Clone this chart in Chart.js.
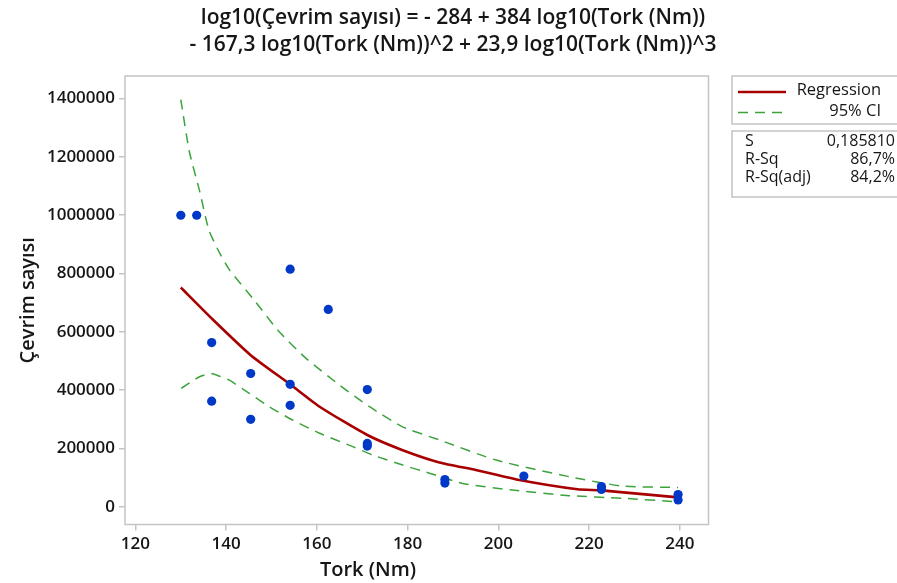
<!DOCTYPE html>
<html>
<head>
<meta charset="utf-8">
<script src="https://cdn.jsdelivr.net/npm/chart.js@4.4.1/dist/chart.umd.min.js"></script>
<style>
  html, body { margin: 0; padding: 0; background: #ffffff; }
  #wrap { width: 897px; height: 583px; position: relative; }
</style>
</head>
<body>
<div id="wrap"><canvas id="chart" width="897" height="583"></canvas></div>
<script>
// Observed fatigue data: torque (Nm) vs. cycles to failure
const torque = [130, 133.5, 136.8, 136.8, 145.4, 145.4, 154.1, 154.1, 154.1, 162.5,
                171.1, 171.1, 171.1, 188.2, 188.2, 205.6, 222.7, 222.7, 239.6, 239.6];
const cycles = [1000000, 1000000, 563000, 362000, 457000, 300000, 815000, 420000, 348000, 677000,
                402000, 217000, 208000, 93000, 81000, 105000, 69000, 59000, 42000, 23000];

// Fitted cubic regression curve (back-transformed)
const fitX = [130, 136.8, 145.4, 154.1, 160.6, 171.1, 178.9, 187, 195, 204.6, 217.4, 222.7, 239.6];
const fitY = [752000, 646000, 520000, 420000, 343000, 246000, 194000, 152000, 126000, 91500, 59700, 56000, 32000];

// 95% confidence band
const ciUpperX = [130, 131.9, 134.1, 136.2, 138.6, 140.8, 145.9, 151.7, 157.6, 165, 171.6, 178.9, 187, 199.5, 215.6, 227.3, 239.6];
const ciUpperY = [1397000, 1217000, 1086000, 949000, 869000, 811000, 714000, 600000, 509000, 417000, 343000, 274000, 229000, 160000, 103000, 71000, 66000];
const ciLowerX = [130.1, 134.1, 136.7, 138.5, 140.7, 145.1, 149.5, 154.7, 160.6, 167.9, 172.3, 178.9, 184.8, 192.1, 203.1, 215.6, 227.3, 239.6];
const ciLowerY = [406000, 446000, 457000, 448000, 434000, 389000, 343000, 297000, 252000, 206000, 177000, 143000, 115000, 80000, 57000, 38000, 29000, 17000];

// Axis ticks
const xTicks = [120, 140, 160, 180, 200, 220, 240];
const yTicks = [0, 200000, 400000, 600000, 800000, 1000000, 1200000, 1400000];

const titleLines = [
  'log10(Çevrim sayısı) = - 284 + 384 log10(Tork (Nm))',
  '- 167,3 log10(Tork (Nm))^2 + 23,9 log10(Tork (Nm))^3'
];
const statLabels = ['S', 'R-Sq', 'R-Sq(adj)'];
const statValues = ['0,185810', '86,7%', '84,2%'];

const FONT = '"Open Sans", "Noto Sans", "DejaVu Sans", sans-serif';
const TEXT = '#161616';
const FRAME = '#c4c4c4';
const RED = '#a80000';
const GREEN = '#3ca33c';
const BLUE = '#0038c8';

const toXY = (xs, ys) => xs.map((x, i) => ({ x: x, y: ys[i] }));

// Frame around the plot area, titles, legend and summary statistics
const decorations = {
  id: 'decorations',
  beforeDatasetsDraw(chart) {
    const { ctx, chartArea: a } = chart;
    ctx.save();
    ctx.strokeStyle = FRAME;
    ctx.lineWidth = 1.5;
    ctx.strokeRect(a.left, a.top, a.right - a.left, a.bottom - a.top);
    ctx.restore();
  },
  afterDraw(chart) {
    const { ctx, chartArea: a } = chart;
    ctx.save();
    ctx.fillStyle = TEXT;

    // Chart title
    ctx.font = '600 21px ' + FONT;
    ctx.textAlign = 'center';
    ctx.textBaseline = 'middle';
    ctx.fillText(titleLines[0], 453, 18);
    ctx.fillText(titleLines[1], 453, 45);

    // Axis titles
    ctx.font = '600 20px ' + FONT;
    ctx.fillText('Tork (Nm)', 368, 570);
    ctx.save();
    ctx.translate(28, (a.top + a.bottom) / 2);
    ctx.rotate(-Math.PI / 2);
    ctx.fillText('Çevrim sayısı', 0, 0);
    ctx.restore();

    // Legend box
    ctx.strokeStyle = FRAME;
    ctx.lineWidth = 1.5;
    ctx.strokeRect(732, 76, 170, 48);
    ctx.strokeRect(732, 131, 170, 66);

    ctx.lineWidth = 2.6;
    ctx.strokeStyle = RED;
    ctx.beginPath(); ctx.moveTo(738, 92); ctx.lineTo(786, 92); ctx.stroke();
    ctx.lineWidth = 1.5;
    ctx.strokeStyle = GREEN;
    ctx.setLineDash([10, 7]);
    ctx.beginPath(); ctx.moveTo(738, 112.5); ctx.lineTo(786, 112.5); ctx.stroke();
    ctx.setLineDash([]);

    ctx.font = '500 16.5px ' + FONT;
    ctx.textAlign = 'right';
    ctx.fillText('Regression', 881, 90);
    ctx.fillText('95% CI', 881, 111);

    // Summary statistics
    ctx.font = '500 16px ' + FONT;
    statLabels.forEach((s, i) => {
      const y = 141 + i * 18;
      ctx.textAlign = 'left';
      ctx.fillText(s, 745, y);
      ctx.textAlign = 'right';
      ctx.fillText(statValues[i], 895, y);
    });
    ctx.restore();
  }
};

new Chart(document.getElementById('chart'), {
  type: 'scatter',
  data: {
    datasets: [
      {
        label: 'Data',
        data: toXY(torque, cycles),
        backgroundColor: BLUE,
        borderColor: BLUE,
        pointRadius: 4.6,
        pointBorderWidth: 0,
        order: 0
      },
      {
        label: 'Regression',
        data: toXY(fitX, fitY),
        showLine: true,
        borderColor: RED,
        borderWidth: 2.6,
        pointRadius: 0,
        tension: 0.2,
        order: 1
      },
      {
        label: '95% CI upper',
        data: toXY(ciUpperX, ciUpperY),
        showLine: true,
        borderColor: GREEN,
        borderWidth: 1.5,
        borderDash: [10, 7],
        pointRadius: 0,
        tension: 0.2,
        order: 2
      },
      {
        label: '95% CI lower',
        data: toXY(ciLowerX, ciLowerY),
        showLine: true,
        borderColor: GREEN,
        borderWidth: 1.5,
        borderDash: [10, 7],
        pointRadius: 0,
        tension: 0.2,
        order: 3
      }
    ]
  },
  options: {
    responsive: false,
    animation: false,
    devicePixelRatio: 1,
    layout: { padding: { left: 0, top: 76, right: 188.5, bottom: 0 } },
    plugins: {
      legend: { display: false },
      title: { display: false },
      tooltip: { enabled: false }
    },
    scales: {
      x: {
        type: 'linear',
        min: 117.7,
        max: 246.3,
        afterBuildTicks(axis) { axis.ticks = xTicks.map(v => ({ value: v })); },
        afterFit(axis) { axis.height = 58.5; },
        border: { display: false },
        grid: { drawOnChartArea: false, drawTicks: true, tickLength: 6, color: FRAME, lineWidth: 1.5 },
        ticks: {
          color: TEXT,
          padding: 3,
          maxRotation: 0,
          font: { family: FONT, size: 17, weight: '600' },
          callback: v => String(v)
        }
      },
      y: {
        type: 'linear',
        min: -61000,
        max: 1477700,
        afterBuildTicks(axis) { axis.ticks = yTicks.map(v => ({ value: v })); },
        afterFit(axis) { axis.width = 125; },
        border: { display: false },
        grid: { drawOnChartArea: false, drawTicks: true, tickLength: 6, color: FRAME, lineWidth: 1.5 },
        ticks: {
          color: TEXT,
          padding: 4,
          font: { family: FONT, size: 17, weight: '600' },
          callback: v => String(v)
        }
      }
    }
  },
  plugins: [decorations]
});
</script>
</body>
</html>
